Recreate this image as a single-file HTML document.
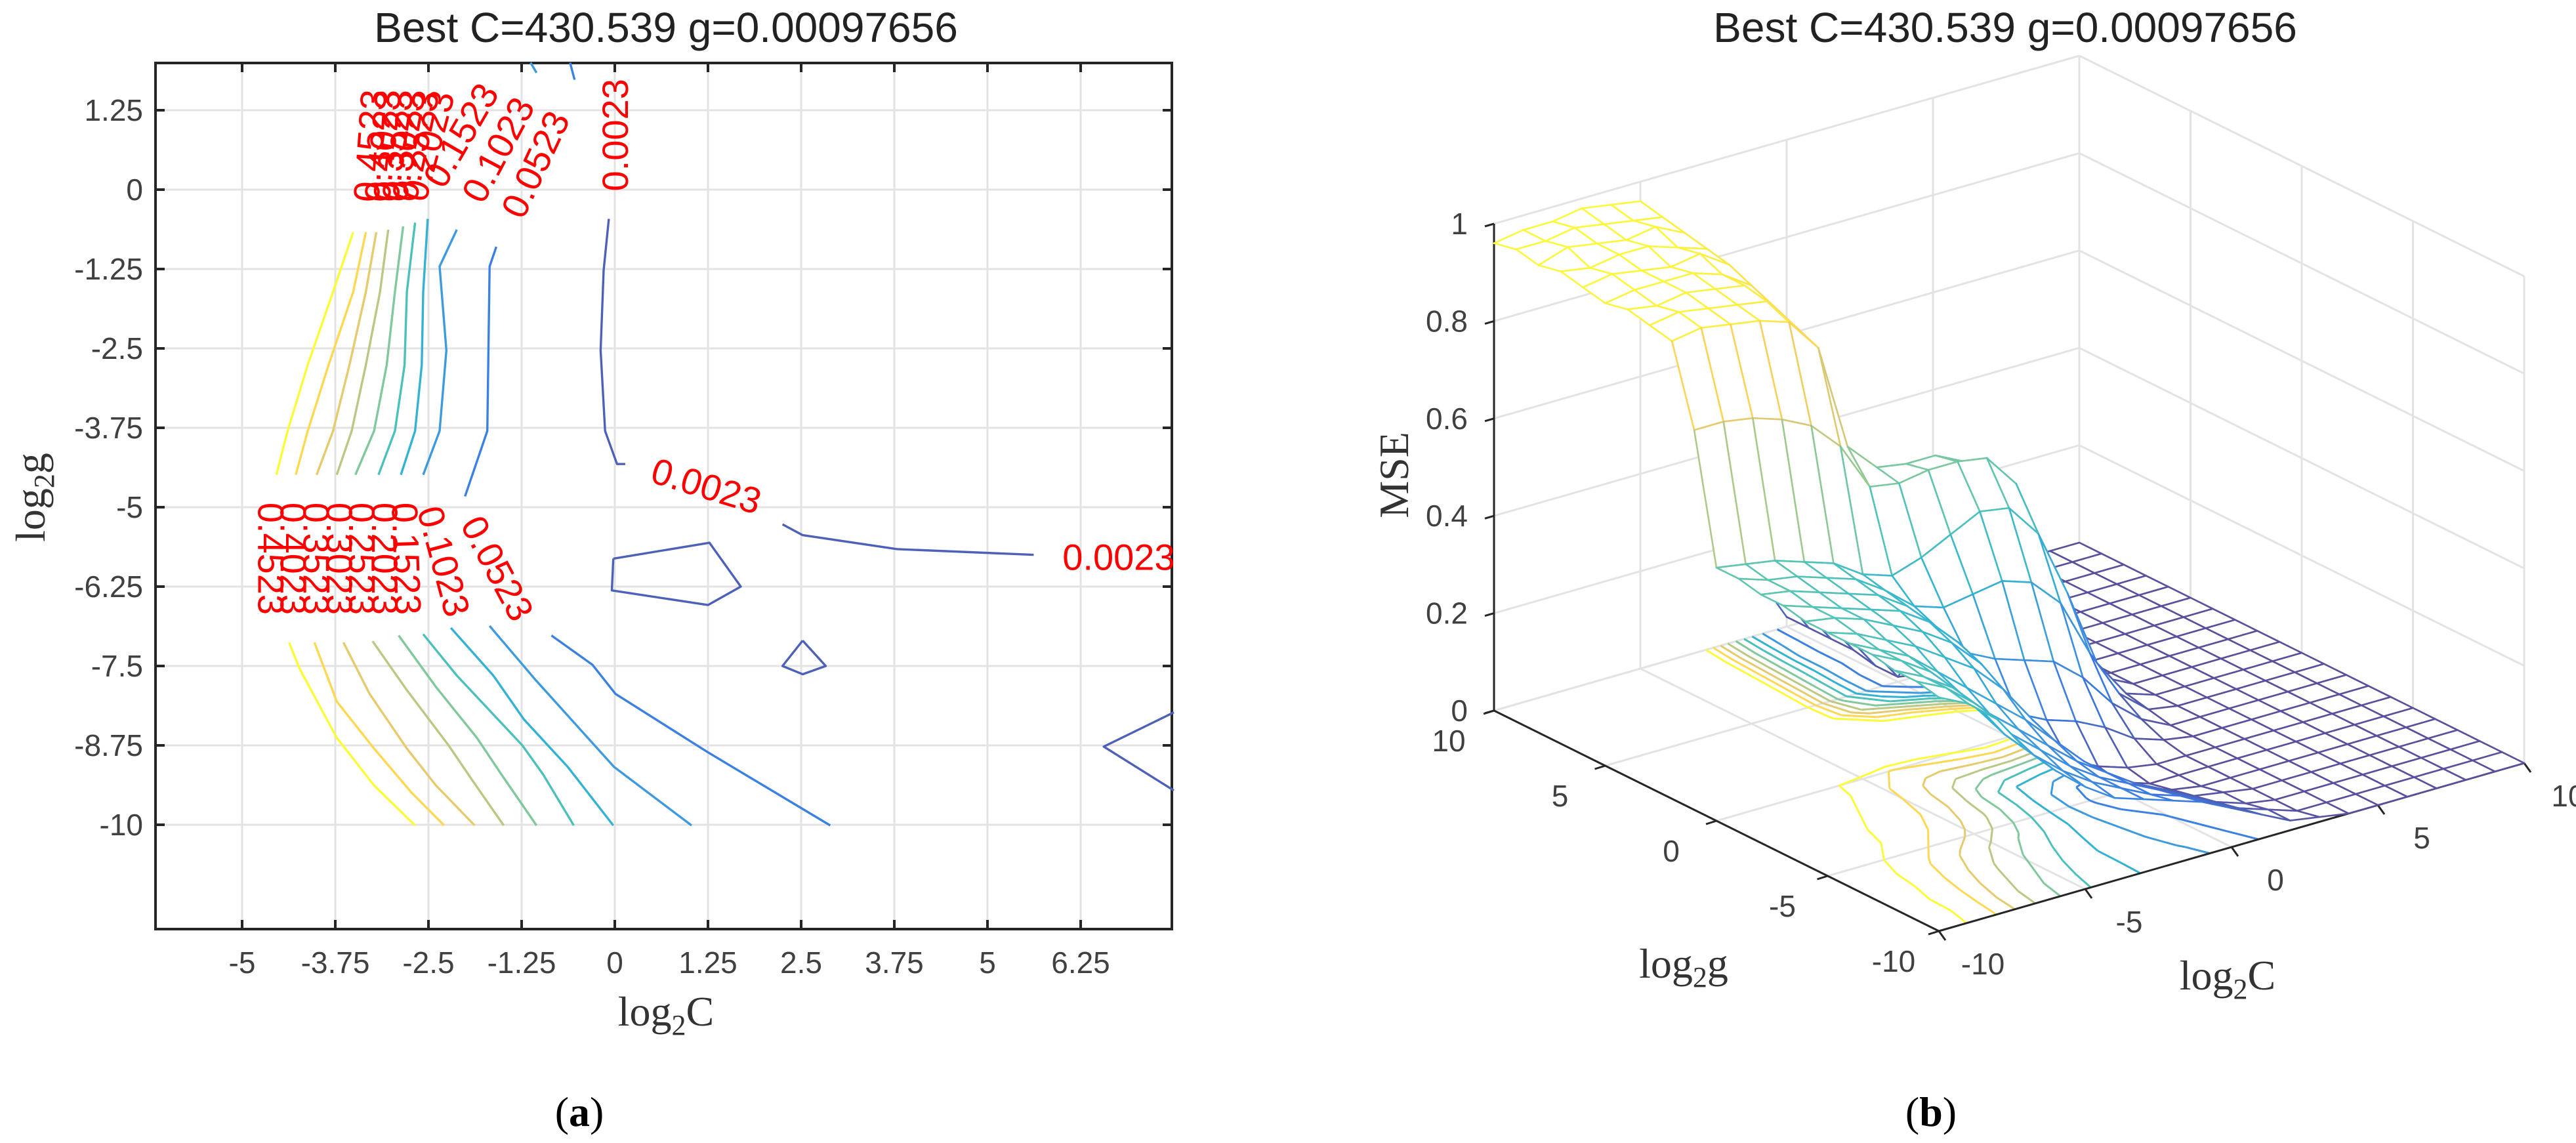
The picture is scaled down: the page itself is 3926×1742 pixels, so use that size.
<!DOCTYPE html>
<html><head><meta charset="utf-8"><style>
html,body{margin:0;padding:0;background:#fff;}
svg{display:block;}
text{font-family:"Liberation Sans",sans-serif;}
.serif{font-family:"Liberation Serif",serif;}
</style></head>
<body>
<svg id="fig" width="3926" height="1742" viewBox="0 0 3926 1742" xmlns="http://www.w3.org/2000/svg">
<rect width="3926" height="1742" fill="#fff"/>
<g id="left"></g>
<g id="right"></g>
<text x="1015" y="64" font-size="64" text-anchor="middle" fill="#222">Best C=430.539 g=0.00097656</text>
<text x="3056" y="64" font-size="64" text-anchor="middle" fill="#222">Best C=430.539 g=0.00097656</text>
<text class="serif" x="1015" y="1563" font-size="64" text-anchor="middle" fill="#333">log<tspan font-size="44" dy="14">2</tspan><tspan dy="-14">C</tspan></text>
<text class="serif" transform="translate(68,758) rotate(-90)" font-size="64" text-anchor="middle" fill="#333">log<tspan font-size="44" dy="14">2</tspan><tspan dy="-14">g</tspan></text>
<text class="serif" x="883" y="1716" font-size="64" text-anchor="middle" fill="#000">(<tspan font-weight="bold">a</tspan>)</text>
<text class="serif" x="2943" y="1716" font-size="64" text-anchor="middle" fill="#000">(<tspan font-weight="bold">b</tspan>)</text>
<text class="serif" x="2566" y="1490" font-size="64" text-anchor="middle" fill="#333">log<tspan font-size="44" dy="14">2</tspan><tspan dy="-14">g</tspan></text>
<text class="serif" x="3395" y="1508" font-size="64" text-anchor="middle" fill="#333">log<tspan font-size="44" dy="14">2</tspan><tspan dy="-14">C</tspan></text>
<text class="serif" transform="translate(2146,724) rotate(-90)" font-size="64" text-anchor="middle" fill="#333">MSE</text>
</svg>
<script>
// ---------- LEFT CONTOUR DATA ----------
const xTicks = [-5,-3.75,-2.5,-1.25,0,1.25,2.5,3.75,5,6.25];
const yTicks = [1.25,0,-1.25,-2.5,-3.75,-5,-6.25,-7.5,-8.75,-10];
const levels = ["0.0023","0.0523","0.1023","0.1523","0.2023","0.2523","0.3023","0.3523","0.4023","0.4523"];
const contourUpper = [
 [9,[[-3.51,-0.67],[-3.78,-1.61],[-4.12,-2.76],[-4.39,-3.80],[-4.54,-4.49]]],
 [8,[[-3.34,-0.67],[-3.51,-1.61],[-3.84,-2.76],[-4.12,-3.80],[-4.28,-4.49]]],
 [7,[[-3.20,-0.67],[-3.34,-1.61],[-3.56,-2.76],[-3.78,-3.80],[-4.00,-4.49]]],
 [6,[[-3.04,-0.63],[-3.15,-1.61],[-3.34,-2.76],[-3.53,-3.80],[-3.73,-4.49]]],
 [5,[[-2.84,-0.58],[-2.95,-1.61],[-3.06,-2.76],[-3.23,-3.80],[-3.48,-4.49]]],
 [4,[[-2.68,-0.52],[-2.79,-1.61],[-2.82,-2.76],[-2.95,-3.80],[-3.17,-4.49]]],
 [3,[[-2.51,-0.46],[-2.57,-1.61],[-2.59,-2.76],[-2.68,-3.80],[-2.87,-4.49]]],
 [2,[[-2.12,-0.63],[-2.35,-1.21],[-2.26,-2.53],[-2.35,-3.80],[-2.57,-4.49]]],
 [1,[[-1.59,-0.90],[-1.68,-1.21],[-1.71,-3.80],[-2.01,-4.83]]],
 [0,[[-0.08,-0.46],[-0.15,-1.27],[-0.19,-2.53],[-0.13,-3.80],[0.03,-4.32],[0.14,-4.32]]],
 [0,[[2.25,-5.27],[2.52,-5.44],[3.79,-5.66],[5.62,-5.75]]],
 [2,[[-1.13,2.0],[-1.05,1.84]]],
 [1,[[-0.6,2.0],[-0.54,1.73]]]
];
const contourLower = [
 [9,[[-4.37,-7.13],[-4.23,-7.54],[-3.73,-8.63],[-3.23,-9.38],[-2.68,-10.01]]],
 [8,[[-4.03,-7.13],[-3.73,-8.06],[-3.23,-8.80],[-2.73,-9.49],[-2.29,-10.01]]],
 [7,[[-3.64,-7.13],[-3.29,-7.94],[-2.79,-8.80],[-2.40,-9.38],[-1.88,-10.01]]],
 [6,[[-3.25,-7.11],[-2.79,-7.88],[-2.23,-8.75],[-1.90,-9.32],[-1.49,-10.01]]],
 [5,[[-2.90,-7.02],[-2.40,-7.83],[-1.85,-8.63],[-1.52,-9.21],[-1.05,-10.01]]],
 [4,[[-2.57,-7.00],[-2.12,-7.65],[-1.24,-8.75],[-0.96,-9.21],[-0.55,-10.01]]],
 [3,[[-2.20,-6.90],[-1.63,-7.65],[-1.22,-8.34],[-0.63,-9.09],[-0.02,-10.01]]],
 [2,[[-1.68,-6.87],[-1.07,-7.71],[-0.01,-9.09],[1.03,-10.01]]],
 [1,[[-0.85,-7.02],[-0.30,-7.48],[0.01,-7.94],[1.25,-8.86],[2.89,-10.01]]],
 [0,[[-0.02,-5.81],[1.27,-5.56],[1.69,-6.25],[1.25,-6.54],[-0.04,-6.31],[-0.02,-5.81]]],
 [0,[[2.52,-7.10],[2.83,-7.50],[2.52,-7.63],[2.25,-7.50],[2.52,-7.10]]],
 [0,[[7.50,-8.23],[6.56,-8.77],[7.50,-9.46]]]
];
const contourLabels = [
 ["0.0023",6.76,-5.78,0],["0.0023",1.23,-4.66,17],["0.0023",0,0.86,-90],
 ["0.0523",-1.07,0.40,-65],["0.1023",-1.57,0.63,-62],["0.1523",-2.07,0.86,-60],
 ["0.2023",-2.51,0.69,-75],["0.2523",-2.68,0.69,-78],["0.3023",-2.84,0.69,-80],
 ["0.3523",-2.98,0.69,-82],["0.4023",-3.12,0.69,-84],["0.4523",-3.29,0.69,-86],
 ["0.4523",-4.61,-5.81,90],["0.4023",-4.31,-5.81,90],["0.3523",-4.00,-5.81,90],
 ["0.3023",-3.69,-5.81,90],["0.2523",-3.39,-5.81,90],["0.2023",-3.08,-5.81,90],
 ["0.1523",-2.79,-5.81,88],["0.1023",-2.29,-5.85,75],["0.0523",-1.57,-5.96,62]
];

// ---------- RIGHT MESH DATA ----------
const cVals = [-10,-9,-8,-7,-6,-5,-4,-3,-2,-1,0,1,2,3,4,5,6,7,8,9,10];
const gVals = [10,9,8,7,6,5,4,3,2,1,0,-1,-2,-3,-4,-5,-6,-7,-8,-9,-10];
const mse = [
 [.96,.97,.97,.98,.97,.96,.72,.5,.3,.12,.02,0,0,0,0,0,0,0,0,0,0],
 [.97,.97,.98,.97,.96,.95,.7,.48,.28,.11,.02,0,0,0,0,0,0,0,0,0,0],
 [.96,.98,.97,.96,.97,.94,.68,.47,.27,.1,.02,0,0,0,0,0,0,0,0,0,0],
 [.97,.96,.97,.97,.95,.93,.66,.46,.26,.1,.02,0,0,0,0,0,0,0,0,0,0],
 [.96,.97,.96,.95,.96,.92,.64,.45,.25,.09,.01,0,0,0,0,0,0,0,0,0,0],
 [.95,.96,.96,.96,.94,.9,.62,.44,.24,.09,.01,0,0,0,0,0,0,0,0,0,0],
 [.96,.95,.96,.95,.94,.88,.6,.45,.3,.2,.1,.03,0,0,0,0,0,0,0,0,0],
 [.95,.96,.95,.94,.93,.86,.6,.5,.45,.4,.3,.15,.05,0,0,0,0,0,0,0,0],
 [.94,.95,.94,.93,.91,.84,.62,.56,.55,.55,.52,.4,.22,.08,.01,0,0,0,0,0,0],
 [.78,.78,.77,.75,.72,.66,.56,.55,.56,.56,.55,.48,.32,.14,.03,0,0,0,0,0,0],
 [.52,.51,.5,.48,.46,.42,.4,.42,.45,.48,.47,.4,.26,.1,.02,0,0,0,0,0,0],
 [.52,.5,.49,.47,.45,.41,.36,.34,.35,.36,.34,.28,.16,.06,.01,0,0,0,0,0,0],
 [.51,.5,.48,.46,.44,.4,.34,.27,.24,.22,.2,.15,.08,.03,0,0,0,0,0,0,0],
 [.51,.49,.47,.45,.43,.39,.33,.23,.15,.12,.1,.07,.03,.01,0,0,0,0,0,0,0],
 [.5,.49,.47,.44,.41,.37,.31,.22,.13,.06,.03,.01,0,0,0,0,0,0,0,0,0],
 [.5,.48,.45,.42,.38,.34,.28,.2,.12,.05,.02,0,0,0,0,0,0,0,0,0,0],
 [.5,.47,.44,.39,.34,.29,.24,.18,.12,.06,.03,.01,0,0,0,0,0,0,0,0,0],
 [.5,.47,.43,.37,.31,.26,.21,.16,.12,.08,.05,.02,.01,0,0,0,0,0,0,0,0],
 [.49,.46,.42,.35,.29,.24,.19,.15,.12,.09,.06,.03,.01,0,0,0,0,0,0,0,0],
 [.49,.46,.41,.33,.27,.22,.18,.15,.12,.1,.07,.04,.02,0,0,0,0,0,0,0,0],
 [.48,.45,.4,.32,.26,.21,.17,.15,.13,.11,.08,.05,.02,.01,0,0,0,0,0,0,0]
];
const floorLevels = [0.0023,0.0523,0.1023,0.1523,0.2023,0.2523,0.3023,0.3523,0.4023,0.4523];
const zTicks = [0,0.2,0.4,0.6,0.8,1];
const zTickLabels = ["0","0.2","0.4","0.6","0.8","1"];
const axTicks3d = [-10,-5,0,5,10];

const NS = "http://www.w3.org/2000/svg";
function mk(tag, attrs, parent){const e=document.createElementNS(NS,tag);for(const k in attrs)e.setAttribute(k,attrs[k]);parent.appendChild(e);return e;}
const PAR=[[0,[53,42,135]],[0.125,[15,92,221]],[0.25,[20,129,214]],[0.375,[6,164,202]],[0.5,[46,183,164]],[0.625,[135,191,119]],[0.75,[209,187,89]],[0.875,[254,200,50]],[1,[249,251,14]]];
function parula(t){t=Math.max(0,Math.min(1,t));for(let i=1;i<PAR.length;i++){if(t<=PAR[i][0]){const a=PAR[i-1],b=PAR[i];const f=(t-a[0])/(b[0]-a[0]);const c=a[1].map((v,j)=>Math.round((v+(b[1][j]-v)*f)*0.82+255*0.18));return `rgb(${c[0]},${c[1]},${c[2]})`;}}return "rgb(250,251,58)";}

// ---------- LEFT PANEL ----------
const L=document.getElementById('left');
const X=c=>937+c*113.6, Y=g=>289-g*96.8;
const AX0=237,AX1=1786,AY0=96,AY1=1416;
xTicks.forEach(t=>{
 const l=mk('line',{x1:X(t),x2:X(t),y1:AY0,y2:AY1,stroke:'#e3e3e3','stroke-width':3},L);
 
 
 const tx=mk('text',{x:X(t),y:1483,'font-size':46,'text-anchor':'middle',fill:'#404040'},L);
 tx.textContent=t;
 
 
 mk('line',{x1:X(t),x2:X(t),y1:AY1,y2:AY1-14,stroke:'#262626','stroke-width':4},L);
 mk('line',{x1:X(t),x2:X(t),y1:AY0,y2:AY0+14,stroke:'#262626','stroke-width':4},L);
});
yTicks.forEach(t=>{
 const l=mk('line',{x1:AX0,x2:AX1,y1:Y(t),y2:Y(t),stroke:'#e3e3e3','stroke-width':3},L);
 
 
 const tx=mk('text',{x:218,y:Y(t)+16,'font-size':46,'text-anchor':'end',fill:'#404040'},L);
 tx.textContent=t;
 
 
 mk('line',{x1:AX0,x2:AX0+14,y1:Y(t),y2:Y(t),stroke:'#262626','stroke-width':4},L);
 mk('line',{x1:AX1,x2:AX1-14,y1:Y(t),y2:Y(t),stroke:'#262626','stroke-width':4},L);
});
const box=mk('rect',{x:AX0,y:AY0,width:AX1-AX0,height:AY1-AY0,fill:'none',stroke:'#262626','stroke-width':4},L);


contourUpper.concat(contourLower).forEach(([lv,pts])=>{
 const p=mk('polyline',{points:pts.map(q=>X(q[0]).toFixed(1)+','+Y(q[1]).toFixed(1)).join(' '),fill:'none',stroke:parula(0.05+lv/9*0.95),'stroke-width':3.4,'stroke-linejoin':'round'},L);
 
 
});
contourLabels.forEach(([t,c,g,a])=>{
 const tx=mk('text',{x:0,y:0,'font-size':56,'text-anchor':'middle',fill:'#ff0000',transform:`translate(${X(c).toFixed(1)},${Y(g).toFixed(1)}) rotate(${a}) translate(0,20)`},L);
 tx.textContent=t;
 
 
});

// ---------- RIGHT PANEL ----------
const Rg=document.getElementById('right');
const P=[2277,1083],Q=[2955,1419],R=[3847,1163],ZH=742;
function pr(c,g,z){const a=(c+10)/20,b=(g+10)/20;return [Q[0]+a*(R[0]-Q[0])+b*(P[0]-Q[0]),Q[1]+a*(R[1]-Q[1])+b*(P[1]-Q[1])-z*ZH];}
function ln(a,b,attrs,name){const e=mk('line',Object.assign({x1:a[0],y1:a[1],x2:b[0],y2:b[1]},attrs),Rg);return e;}
const GR={stroke:'#e3e3e3','stroke-width':3};
zTicks.forEach(z=>{ln(pr(-10,10,z),pr(10,10,z),GR,'back-wall-z-gridline');ln(pr(10,10,z),pr(10,-10,z),GR,'side-wall-z-gridline');});
axTicks3d.forEach(v=>{
 ln(pr(v,10,0),pr(v,10,1),GR,'back-wall-c-gridline');
 ln(pr(10,v,0),pr(10,v,1),GR,'side-wall-g-gridline');
 ln(pr(v,10,0),pr(v,-10,0),GR,'floor-c-gridline');
 ln(pr(-10,v,0),pr(10,v,0),GR,'floor-g-gridline');
});
const zmax=0.98;
for(let i=0;i<gVals.length-1;i++)for(let j=0;j<cVals.length-1;j++){
 const corners=[[cVals[j],gVals[i],mse[i][j]],[cVals[j+1],gVals[i],mse[i][j+1]],[cVals[j+1],gVals[i+1],mse[i+1][j+1]],[cVals[j],gVals[i+1],mse[i+1][j]]];
 floorLevels.forEach((lv,li)=>{
  const pts=[];
  for(let k=0;k<4;k++){const A=corners[k],B=corners[(k+1)%4];if((A[2]-lv)*(B[2]-lv)<0){const f=(lv-A[2])/(B[2]-A[2]);pts.push([A[0]+f*(B[0]-A[0]),A[1]+f*(B[1]-A[1])]);}}
  for(let k=0;k+1<pts.length;k+=2){
   const a=pr(pts[k][0],pts[k][1],0),b=pr(pts[k+1][0],pts[k+1][1],0);
   ln(a,b,{stroke:parula(0.05+li/9*0.95),'stroke-width':3},'floor-contour');
  }
 });
}
ln(pr(-10,10,0),pr(-10,10,1),{stroke:'#262626','stroke-width':3},'z-axis-line');
ln(pr(-10,10,0),pr(-10,-10,0),{stroke:'#262626','stroke-width':3},'g-axis-line');
ln(pr(-10,-10,0),pr(10,-10,0),{stroke:'#262626','stroke-width':3},'c-axis-line');
zTicks.forEach((z,i)=>{
 const p=pr(-10,10,z);
 ln([p[0]-14,p[1]+4],p,{stroke:'#262626','stroke-width':3},'z-tick');
 const t=mk('text',{x:p[0]-40,y:p[1]+16,'font-size':46,'text-anchor':'end',fill:'#404040'},Rg);
 t.textContent=zTickLabels[i];
 
 
});
axTicks3d.forEach(v=>{
 const p=pr(-10,v,0);
 ln(p,[p[0]-16,p[1]+5],{stroke:'#262626','stroke-width':3},'g-tick');
 const t=mk('text',{x:p[0]-69,y:p[1]+62,'font-size':46,'text-anchor':'middle',fill:'#404040'},Rg);
 t.textContent=v;
 
 
 const q=pr(v,-10,0);
 ln(q,[q[0]+10,q[1]+14],{stroke:'#262626','stroke-width':3},'c-tick');
 const t2=mk('text',{x:q[0]+67,y:q[1]+66,'font-size':46,'text-anchor':'middle',fill:'#404040'},Rg);
 t2.textContent=v;
 
 
});
const quads=[];
for(let i=0;i<gVals.length-1;i++)for(let j=0;j<cVals.length-1;j++){
 const cc=(cVals[j]+cVals[j+1])/2, gc=(gVals[i]+gVals[i+1])/2;
 quads.push({i,j,d:12.8*cc+16.7*gc});
}
quads.sort((a,b)=>b.d-a.d);
quads.forEach(({i,j})=>{
 const v=[[i,j],[i,j+1],[i+1,j+1],[i+1,j]];
 const pts=v.map(([a,b])=>pr(cVals[b],gVals[a],mse[a][b]));
 const poly=mk('polygon',{points:pts.map(p=>p[0].toFixed(1)+','+p[1].toFixed(1)).join(' '),fill:'#fff',stroke:'none'},Rg);
 
 
 for(let k=0;k<4;k++){
  const a=v[k],b=v[(k+1)%4];
  const zm=(mse[a[0]][a[1]]+mse[b[0]][b[1]])/2;
  ln(pts[k],pts[(k+1)%4],{stroke:parula(zm/zmax),'stroke-width':2.6,'stroke-linecap':'round'},'mesh-edge');
 }
});
</script>
</body></html>
